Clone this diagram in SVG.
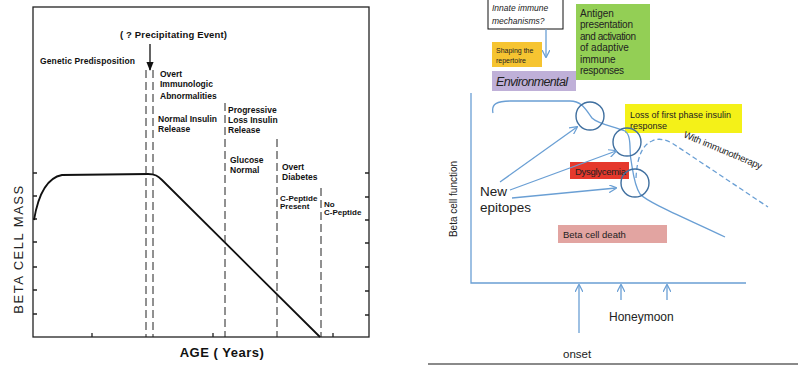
<svg xmlns="http://www.w3.org/2000/svg" width="798" height="365" viewBox="0 0 798 365">
<defs>
<style>
.lt{font-family:"Liberation Sans",Arial,sans-serif;font-weight:bold;fill:#111}
.ax{stroke:#222;stroke-width:1.3;fill:none}
.dash{stroke:#222;stroke-width:1;stroke-dasharray:8 4;fill:none}
.bl{stroke:#6a9fd4;stroke-width:1.3;fill:none}
.rt{font-family:"Liberation Sans",Arial,sans-serif;fill:#222}
.circ{stroke:#3f6f9f;stroke-width:1.4;fill:none}
</style>
<marker id="ah" viewBox="0 0 10 10" refX="9" refY="5" markerWidth="8" markerHeight="8" orient="auto" markerUnits="userSpaceOnUse"><path d="M0,0 L10,5 L0,10" fill="none" stroke="#6a9fd4" stroke-width="1.5"/></marker>
<marker id="bh" viewBox="0 0 10 10" refX="9" refY="5" markerWidth="9" markerHeight="9" orient="auto" markerUnits="userSpaceOnUse"><path d="M0,1 L10,5 L0,9 Z" fill="#111"/></marker>
</defs>
<rect width="798" height="365" fill="#fff"/>

<!-- LEFT CHART -->
<g id="left-chart">
<rect x="33" y="7" width="336" height="330" class="ax"/>
<path class="ax" d="M33,173h4M33,196h4M33,219h4M33,242h4M33,267h4M33,290h4M33,314h4M369,173h-4M369,197h-4M369,220h-4M369,243h-4M369,267h-4M369,291h-4M369,315h-4M92,337v-4M213,337v-4M333,337v-4"/>
<path d="M34,220 C38,196 46,178 62,175 L148,174 C155,174 158,176 162,180 L320,337" fill="none" stroke="#111" stroke-width="1.8"/>
<path class="dash" d="M146,70V337M153,70V337M225,103V337M277,139V337M321,188V337"/>
<line x1="150" y1="44" x2="150" y2="70" stroke="#111" stroke-width="1.3" marker-end="url(#bh)"/>
<g font-size="8.5">
<text class="lt" x="120" y="38" font-size="9.5" textLength="107">( ? Precipitating Event)</text>
<text class="lt" x="40" y="64" textLength="95">Genetic  Predisposition</text>
<text class="lt" x="160" y="77">Overt</text>
<text class="lt" x="160" y="87">Immunologic</text>
<text class="lt" x="160" y="99">Abnormalities</text>
<text class="lt" x="158" y="122">Normal Insulin</text>
<text class="lt" x="158" y="132">Release</text>
<text class="lt" x="228" y="113">Progressive</text>
<text class="lt" x="228" y="123">Loss Insulin</text>
<text class="lt" x="228" y="133">Release</text>
<text class="lt" x="230" y="163">Glucose</text>
<text class="lt" x="230" y="173">Normal</text>
<text class="lt" x="282" y="170">Overt</text>
<text class="lt" x="282" y="180">Diabetes</text>
<text class="lt" x="280" y="201" font-size="8">C-Peptide</text>
<text class="lt" x="280" y="209" font-size="8">Present</text>
<text class="lt" x="324" y="207" font-size="8">No</text>
<text class="lt" x="324" y="215" font-size="8">C-Peptide</text>
</g>
<text class="lt" x="222" y="357" font-size="13" letter-spacing="0.5" text-anchor="middle">AGE ( Years)</text>
<text class="rt" x="0" y="0" font-size="13" letter-spacing="1.5" text-anchor="middle" transform="translate(23,249) rotate(-90)" fill="#111">BETA  CELL  MASS</text>
</g>

<!-- RIGHT DIAGRAM -->
<g id="innate">
<rect x="488" y="-1" width="75" height="30" fill="#fff" stroke="#111" stroke-width="1"/>
<text class="rt" x="492" y="11" font-size="8.5" font-style="italic" fill="#333">Innate immune</text>
<text class="rt" x="492" y="24" font-size="8.5" font-style="italic" fill="#333">mechanisms?</text>
</g>
<g id="shaping">
<rect x="492" y="42" width="50" height="25" fill="#f6c431"/>
<text class="rt" x="496" y="53" font-size="7">Shaping the</text>
<text class="rt" x="496" y="63" font-size="7">repertoire</text>
</g>
<g id="antigen">
<rect x="576" y="4" width="74" height="76" fill="#93cf55"/>
<text class="rt" font-size="10" x="580"><tspan x="580" y="17">Antigen</tspan><tspan x="580" y="28" textLength="53">presentation</tspan><tspan x="580" y="40" textLength="56">and activation</tspan><tspan x="580" y="51">of adaptive</tspan><tspan x="580" y="63">immune</tspan><tspan x="580" y="74" textLength="44">responses</tspan></text>
</g>
<g id="environmental">
<rect x="492" y="71" width="84" height="20" fill="#bfb0d8"/>
<text class="rt" x="496" y="86" font-size="12.5" font-style="italic" textLength="72">Environmental</text>
</g>
<g id="loss">
<rect x="625" y="104" width="117" height="29" fill="#f4f118"/>
<text class="rt" x="630" y="118" font-size="9" textLength="101">Loss of first phase insulin</text>
<text class="rt" x="630" y="129" font-size="9">response</text>
</g>
<g id="dysglycemia">
<rect x="570" y="162" width="59" height="17" fill="#e5382c"/>
<text class="rt" x="575" y="175" font-size="9.5" textLength="51">Dysglycemia</text>
</g>
<g id="death">
<rect x="558" y="225" width="109" height="18" fill="#e2a4a1"/>
<text class="rt" x="563" y="238" font-size="9.5">Beta cell death</text>
</g>
<g id="epitopes">
<text class="rt" x="480" y="196" font-size="13.5">New</text>
<text class="rt" x="480" y="212" font-size="13.5">epitopes</text>
</g>
<g id="axis-labels">
<text class="rt" font-size="10" text-anchor="middle" transform="translate(457,199) rotate(-90)">Beta cell function</text>
<text class="rt" x="609" y="321" font-size="12">Honeymoon</text>
<text class="rt" x="563" y="358" font-size="11.5">onset</text>
<text class="rt" font-size="9.5" transform="translate(683,137) rotate(22.7)" textLength="84">With immunotherapy</text>
</g>
<g id="connectors">
<path class="bl" d="M471,93V283H746"/>
<line x1="546" y1="29" x2="546" y2="57" class="bl" marker-end="url(#ah)"/>
<path class="bl" d="M493,113 C491,104 497,101 510,101 L570,101 C582,101 586,110 592,118 C598,124 612,126 625,131 C632,136 629,150 631,160 C633,172 634,185 640,194 C648,203 690,220 725,237"/>
<path class="bl" stroke-dasharray="5 3" d="M636,178 C637,158 642,145 652,141 C658,138 664,139 672,143 L768,207"/>
<circle class="circ" cx="590" cy="116" r="14"/>
<circle class="circ" cx="627" cy="142" r="14"/>
<circle class="circ" cx="635" cy="183" r="14"/>
<line x1="500" y1="182" x2="577" y2="127" class="bl" marker-end="url(#ah)"/>
<line x1="510" y1="190" x2="616" y2="151" class="bl" marker-end="url(#ah)"/>
<line x1="512" y1="198" x2="616" y2="188" class="bl" marker-end="url(#ah)"/>
<line x1="579" y1="333" x2="579" y2="285" class="bl" marker-end="url(#ah)"/>
<line x1="621" y1="300" x2="621" y2="285" class="bl" marker-end="url(#ah)"/>
<line x1="667" y1="300" x2="667" y2="285" class="bl" marker-end="url(#ah)"/>
<line x1="428" y1="364" x2="798" y2="364" stroke="#8a8a8a" stroke-width="2"/>
</g>
</svg>
